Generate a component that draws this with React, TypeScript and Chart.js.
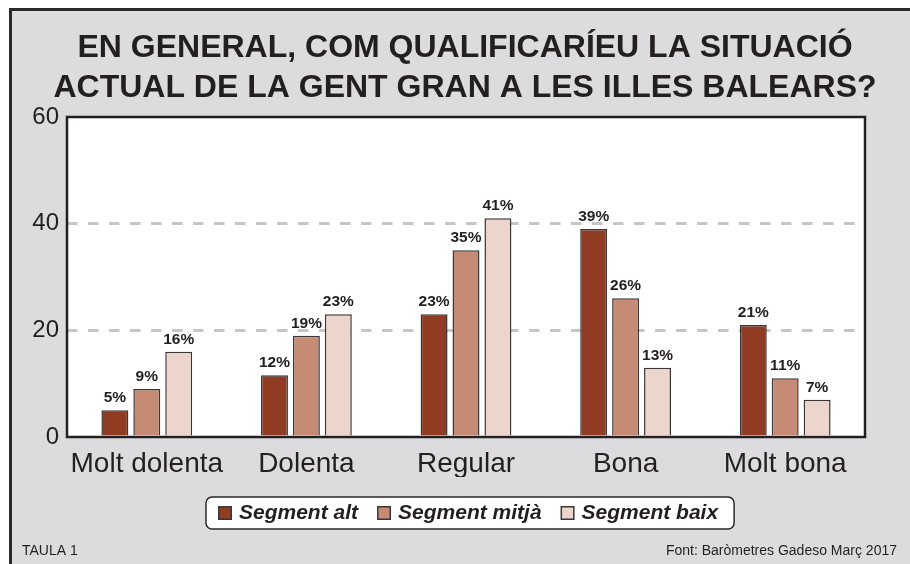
import React, { useEffect, useRef } from "react";
import { Chart, registerables } from "chart.js";

Chart.register(...registerables);

const categories = ["Molt dolenta", "Dolenta", "Regular", "Bona", "Molt bona"];
const seriesNames = ["Segment alt", "Segment mitjà", "Segment baix"];
const segmentAlt = [5, 11.6, 23, 39, 21];
const segmentMitja = [9, 19, 35, 26, 11];
const segmentBaix = [16, 23, 41, 13, 7];
const valueLabels = [
  ["5%", "12%", "23%", "39%", "21%"],
  ["9%", "19%", "35%", "26%", "11%"],
  ["16%", "23%", "41%", "13%", "7%"],
];
const yTicks = [0, 20, 40, 60];
const titleLines = [
  "EN GENERAL, COM QUALIFICARÍEU LA SITUACIÓ",
  "ACTUAL DE LA GENT GRAN A LES ILLES BALEARS?",
];
const footerLeft = "TAULA 1";
const footerRight = "Font: Baròmetres Gadeso Març 2017";

const colors = ["#8f3c22", "#c68b75", "#ecd6cb"];
const INK = "#231f20";
const FONT = '"Liberation Sans", Arial, sans-serif';

export default function App() {
  const ref = useRef<HTMLCanvasElement | null>(null);

  useEffect(() => {
    document.body.style.margin = "0";
    const canvas = ref.current!;
    const decor = {
      id: "decor",
      beforeDraw(chart: any) {
        const ctx = chart.ctx;
        const { left, top, right, bottom } = chart.chartArea;
        ctx.save();
        ctx.fillStyle = "#ffffff";
        ctx.fillRect(0, 0, 910, 564);
        ctx.fillStyle = "#dcdcde";
        ctx.fillRect(9, 8, 901, 556);
        ctx.fillStyle = "#2b2829";
        ctx.fillRect(9, 8, 901, 3);
        ctx.fillRect(9, 8, 3, 556);
        ctx.fillStyle = "#ffffff";
        ctx.fillRect(left, top, right - left, bottom - top);
        // title
        ctx.fillStyle = INK;
        ctx.font = `bold 32px ${FONT}`;
        ctx.textAlign = "center";
        ctx.textBaseline = "alphabetic";
        ctx.fillText(titleLines[0], 465, 57);
        ctx.fillText(titleLines[1], 465, 97);
        // footer
        ctx.font = `14px ${FONT}`;
        ctx.textAlign = "left";
        ctx.fillText(footerLeft, 22, 555);
        ctx.textAlign = "right";
        ctx.fillText(footerRight, 897, 555);
        // legend
        ctx.font = `italic bold 21px ${FONT}`;
        const boxL = 206, boxT = 497, boxH = 32;
        let x = boxL + 12;
        const items: { sx: number; tx: number }[] = [];
        seriesNames.forEach((name) => {
          const w = ctx.measureText(name).width;
          items.push({ sx: x, tx: x + 21 });
          x = x + 21 + w + 19;
        });
        const boxR = x - 19 + 16;
        ctx.beginPath();
        if (ctx.roundRect) ctx.roundRect(boxL, boxT, boxR - boxL, boxH, 6);
        else ctx.rect(boxL, boxT, boxR - boxL, boxH);
        ctx.fillStyle = "#ffffff";
        ctx.fill();
        ctx.lineWidth = 1.5;
        ctx.strokeStyle = "#2b2829";
        ctx.stroke();
        ctx.textAlign = "left";
        seriesNames.forEach((name, i) => {
          ctx.fillStyle = "#3a3536";
          ctx.fillRect(items[i].sx, 506, 14, 14);
          ctx.fillStyle = colors[i];
          ctx.fillRect(items[i].sx + 1.5, 507.5, 11, 11);
          ctx.fillStyle = INK;
          ctx.fillText(name, items[i].tx, 519);
        });
        ctx.restore();
      },
      afterDatasetsDraw(chart: any) {
        const ctx = chart.ctx;
        const { left, top, right, bottom } = chart.chartArea;
        ctx.save();
        ctx.fillStyle = INK;
        ctx.font = `bold 15.5px ${FONT}`;
        ctx.textAlign = "center";
        ctx.textBaseline = "alphabetic";
        chart.data.datasets.forEach((ds: any, di: number) => {
          const meta = chart.getDatasetMeta(di);
          meta.data.forEach((bar: any, i: number) => {
            ctx.fillText(valueLabels[di][i], bar.x, bar.y - 8);
          });
        });
        ctx.strokeStyle = INK;
        ctx.lineWidth = 2.5;
        ctx.strokeRect(left, top, right - left, bottom - top);
        ctx.restore();
      },
    };

    const chart = new Chart(canvas, {
      type: "bar",
      data: {
        labels: categories,
        datasets: [segmentAlt, segmentMitja, segmentBaix].map((d, i) => ({
          label: seriesNames[i],
          data: d,
          backgroundColor: colors[i],
          borderColor: "#3a3536",
          borderWidth: 1.5,
          categoryPercentage: 0.6,
          barPercentage: 0.844,
        })),
      },
      options: {
        responsive: false,
        animation: false,
        events: [],
        layout: { padding: { left: 0, top: 117, right: 45, bottom: 87 } },
        plugins: {
          legend: { display: false },
          title: { display: false },
          tooltip: { enabled: false },
        },
        scales: {
          x: {
            afterFit(scale: any) {
              scale.height = 40;
            },
            grid: { display: false, drawTicks: false },
            border: { display: false },
            ticks: {
              color: INK,
              font: { family: FONT, size: 28 },
              padding: 10,
              maxRotation: 0,
            },
          },
          y: {
            min: 0,
            max: 60,
            afterFit(scale: any) {
              scale.width = 67;
            },
            afterBuildTicks(scale: any) {
              scale.ticks = yTicks.map((v) => ({ value: v }));
            },
            grid: {
              drawTicks: false,
              lineWidth: 3,
              color: (c: any) =>
                c.tick && (c.tick.value === 20 || c.tick.value === 40) ? "#c6c6c6" : "rgba(0,0,0,0)",
            },
            border: { display: false, dash: [10.5, 10.5] },
            ticks: {
              color: INK,
              font: { family: FONT, size: 24 },
              padding: 8,
            },
          },
        },
      },
      plugins: [decor],
    });
    return () => chart.destroy();
  }, []);

  return <canvas ref={ref} width={910} height={564} style={{ display: "block" }} />;
}
